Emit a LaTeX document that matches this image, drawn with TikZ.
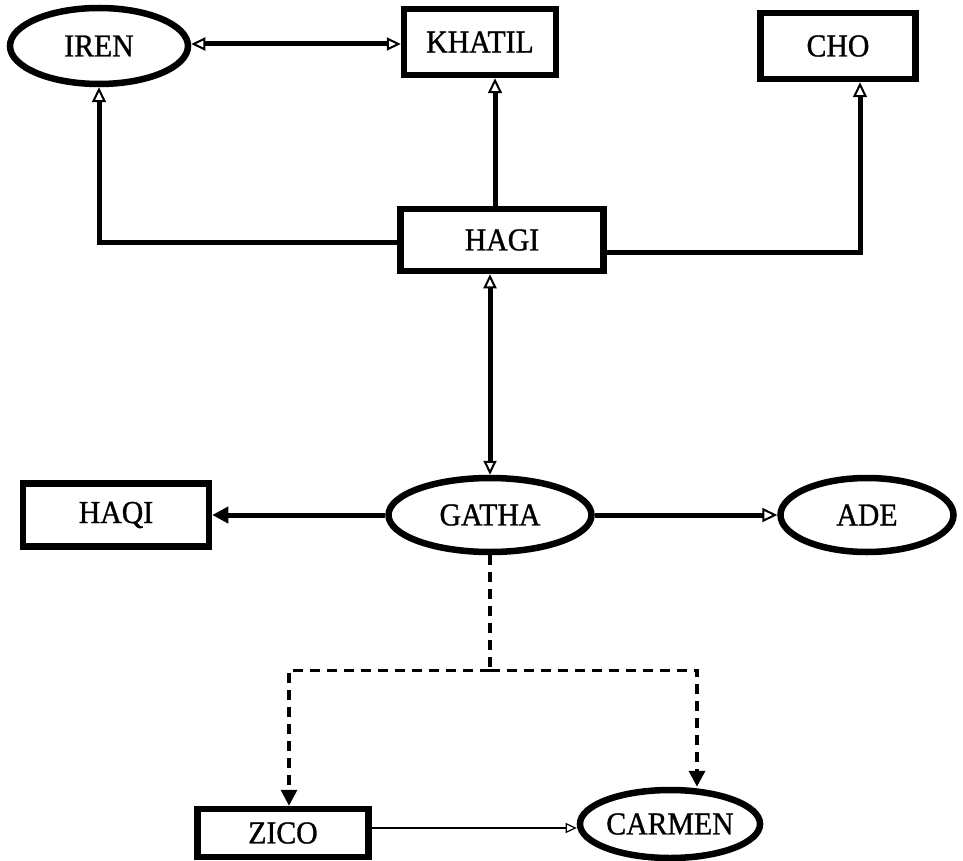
\documentclass[tikz,border=0pt]{standalone}
\usepackage{fontspec}
\setmainfont{Liberation Serif}[FakeBold=1.0,FakeStretch=0.93]
\usetikzlibrary{arrows.meta,shapes.geometric,positioning}
\begin{document}
\begin{tikzpicture}[x=1pt,y=1pt,
  every node/.style={font=\fontsize{32}{34}\selectfont, inner sep=0pt},
  boxnode/.style={draw, rectangle, line width=6.5pt},
  ovalnode/.style={draw, ellipse, line width=6.5pt},
  conn/.style={line width=5pt},
  openhead/.style={-{Triangle[open,length=15pt,width=14pt,line width=2pt]}},
  bothopen/.style={{Triangle[open,length=14pt,width=13pt,line width=2pt]}-{Triangle[open,length=14pt,width=13pt,line width=2pt]}},
  fillhead/.style={-{Triangle[length=16pt,width=16pt]}},
  dashconn/.style={line width=3.5pt, dash pattern=on 10pt off 7pt}
]
\useasboundingbox (0,0) rectangle (963,-861);
\node[ovalnode, minimum width=178, minimum height=76] (iren) at (99,-46) {IREN};
\node[boxnode, minimum width=152, minimum height=66] (khatil) at (480,-42) {KHATIL};
\node[boxnode, minimum width=155, minimum height=66] (cho) at (838,-46) {CHO};
\node[boxnode, minimum width=203, minimum height=62] (hagi) at (502,-240) {HAGI};
\node[ovalnode, minimum width=203, minimum height=74] (gatha) at (490,-515) {GATHA};
\node[boxnode, minimum width=186, minimum height=63] (haqi) at (116,-515) {HAQI};
\node[ovalnode, minimum width=173, minimum height=74] (ade) at (867,-515) {ADE};
\node[boxnode, minimum width=171, minimum height=48] (zico) at (283,-833) {ZICO};
\node[ovalnode, minimum width=178, minimum height=68] (carmen) at (670,-824) {CARMEN};

\draw[conn, bothopen] ([yshift=2pt]iren.east) -- ([yshift=2pt]iren.east -| khatil.west);
\draw[conn, openhead] ([yshift=-2pt]hagi.west) -| (iren.south);
\draw[conn, openhead] ([xshift=-7pt]hagi.north) -- ([xshift=-7pt]hagi.north |- khatil.south);
\draw[conn, openhead] ([yshift=-12pt]hagi.east) -| ([xshift=22pt]cho.south);
\draw[conn, bothopen] (gatha.north) -- (gatha.north |- hagi.south);
\draw[conn, fillhead] (gatha.west) -- (haqi.east);
\draw[conn, openhead] (gatha.east) -- (ade.west);
\coordinate (split) at ([yshift=-115pt]gatha.south);
\draw[dashconn] (gatha.south) -- (split);
\draw[dashconn, fillhead] (split) -| ([xshift=6pt]zico.north);
\draw[dashconn, fillhead] (split) -| ([xshift=27pt]carmen.north);
\draw[line width=1.8pt, -{Triangle[open,length=11pt,width=10pt,line width=1.2pt]}] ([yshift=5pt]zico.east) -- ([yshift=5pt]zico.east -| carmen.west);
\end{tikzpicture}
\end{document}
